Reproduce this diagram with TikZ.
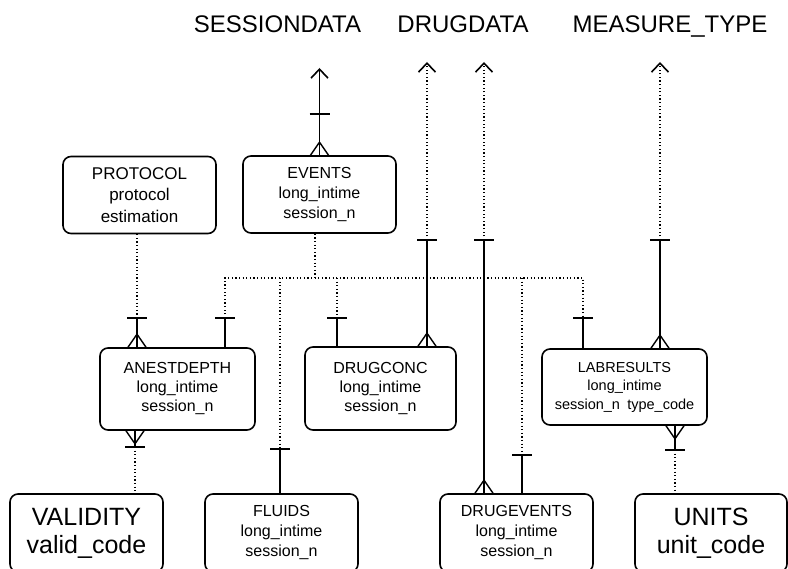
\documentclass[tikz,border=0pt]{standalone}
\usepackage{fontspec}
\setmainfont{Liberation Sans}
\usetikzlibrary{arrows.meta,decorations.markings}
\begin{document}
\begin{tikzpicture}[x=1pt,y=-1pt,
  box/.style={draw,rounded corners=8pt,line width=1.6pt,align=center,inner sep=0pt},
  title/.style={font=\fontsize{24}{28}\selectfont,anchor=base,inner sep=0pt},
  conn/.style={line width=1.6pt},
  dotl/.style={line width=1.3pt,dash pattern=on 1.2pt off 2.4pt},
  tip/.style={-{Straight Barb[length=9pt,width=17pt,line width=1.6pt]}},
  crowstart/.style={postaction={decorate,decoration={markings,mark=at position 0 with {\draw[solid,line width=1.4pt] (13pt,0pt)--(0pt,9pt) (13pt,0pt)--(0pt,-9pt);}}}},
  crowend/.style={postaction={decorate,decoration={markings,mark=at position 0.9999 with {\draw[solid,line width=1.4pt] (-13pt,0pt)--(0pt,9pt) (-13pt,0pt)--(0pt,-9pt);}}}},
  barstart/.style={postaction={decorate,decoration={markings,mark=at position 0 with {\draw[solid,line width=1.6pt] (0pt,-10pt)--(0pt,10pt);}}}},
  barend/.style={postaction={decorate,decoration={markings,mark=at position 0.9999 with {\draw[solid,line width=1.6pt] (0pt,-10pt)--(0pt,10pt);}}}},
  fthree/.style={font=\fontsize{16}{20}\selectfont},
  ftwo/.style={font=\fontsize{25}{28}\selectfont}
]
\useasboundingbox (0,0) rectangle (788,569);
\clip (0,0) rectangle (788,569);

% titles
\node[title] (tsess) at (277.5,33) {SESSIONDATA};
\node[title] (tdrug) at (463,33) {DRUGDATA};
\node[title] (tmeas) at (670,33) {MEASURE\_TYPE};

% boxes
\node[box,minimum width=153pt,minimum height=77pt,font=\fontsize{17}{21.5}\selectfont] (protocol) at (139.5,195) {PROTOCOL\\protocol\\estimation};
\node[box,minimum width=153pt,minimum height=77pt,fthree] (events) at (319.5,194.5) {EVENTS\\long\_intime\\session\_n};
\node[box,minimum width=155pt,minimum height=82pt,font=\fontsize{16}{19}\selectfont] (anest) at (177.5,389) {ANESTDEPTH\\long\_intime\\session\_n};
\node[box,minimum width=151pt,minimum height=83pt,font=\fontsize{16}{19}\selectfont] (drugconc) at (380.5,388.5) {DRUGCONC\\long\_intime\\session\_n};
\node[box,minimum width=165pt,minimum height=76pt,font=\fontsize{14.5}{18.5}\selectfont] (labres) at (624.5,387) {LABRESULTS\\long\_intime\\session\_n\hspace{0.5em}type\_code};
\node[box,minimum width=153pt,minimum height=78pt,ftwo] (validity) at (86.5,533) {VALIDITY\\valid\_code};
\node[box,minimum width=153pt,minimum height=78pt,fthree] (fluids) at (281.5,533) {FLUIDS\\long\_intime\\session\_n};
\node[box,minimum width=153pt,minimum height=78pt,fthree] (drugev) at (516.5,533) {DRUGEVENTS\\long\_intime\\session\_n};
\node[box,minimum width=152pt,minimum height=78pt,ftwo] (units) at (711,533) {UNITS\\unit\_code};

% EVENTS -> SESSIONDATA
\coordinate (sTip) at (319.5,68);
\coordinate (sBar) at (319.5,114);
\draw[conn,barstart,crowend] (sBar) -- (events.north);
\draw[conn,tip] (sBar) -- (sTip);

% DRUGDATA -> DRUGCONC
\coordinate (d1Tip) at (427,62);
\coordinate (d1Bar) at (427,240);
\draw[dotl,tip] (d1Bar) -- (d1Tip);
\draw[conn,barstart,crowend] (d1Bar) -- (drugconc.north -| d1Bar);

% DRUGDATA -> DRUGEVENTS
\coordinate (d2Tip) at (484,62);
\coordinate (d2Bar) at (484,240);
\draw[dotl,tip] (d2Bar) -- (d2Tip);
\draw[conn,barstart,crowend] (d2Bar) -- (drugev.north -| d2Bar);

% MEASURE_TYPE -> LABRESULTS
\coordinate (mTip) at (660,62);
\coordinate (mBar) at (660,240);
\draw[dotl,tip] (mBar) -- (mTip);
\draw[conn,barstart,crowend] (mBar) -- (labres.north -| mBar);

% PROTOCOL -> ANESTDEPTH
\coordinate (pBar) at (137,318);
\draw[dotl] (protocol.south -| pBar) -- (pBar);
\draw[conn,barstart,crowend] (pBar) -- (anest.north -| pBar);

% EVENTS bus
\coordinate (busE) at (315,278);
\coordinate (busL) at (225,278);
\coordinate (busR) at (583,278);
\coordinate (aBar) at (225,318);
\coordinate (lBar) at (583,318);
\draw[dotl] (events.south -| busE) -- (busE);
\draw[dotl] (aBar) -- (busL) -- (busR) -- (lBar);
\draw[conn,barstart] (aBar) -- (anest.north -| aBar);
\draw[conn,barstart] (lBar) -- (labres.north -| lBar);

\coordinate (fTop) at (280,278);
\coordinate (fBar) at (280,449);
\draw[dotl] (fTop) -- (fBar);
\draw[conn,barstart] (fBar) -- (fluids.north -| fBar);

\coordinate (cTop) at (337,278);
\coordinate (cBar) at (337,318);
\draw[dotl] (cTop) -- (cBar);
\draw[conn,barstart] (cBar) -- (drugconc.north -| cBar);

\coordinate (eTop) at (522,278);
\coordinate (eBar) at (522,455);
\draw[dotl] (eTop) -- (eBar);
\draw[conn,barstart] (eBar) -- (drugev.north -| eBar);

% ANESTDEPTH -> VALIDITY
\coordinate (vBar) at (135,447);
\draw[conn,crowstart,barend] (anest.south -| vBar) -- (vBar);
\draw[dotl] (vBar) -- (validity.north -| vBar);

% LABRESULTS -> UNITS
\coordinate (uBar) at (675,450);
\draw[conn,crowstart,barend] (labres.south -| uBar) -- (uBar);
\draw[dotl] (uBar) -- (units.north -| uBar);
\end{tikzpicture}
\end{document}
